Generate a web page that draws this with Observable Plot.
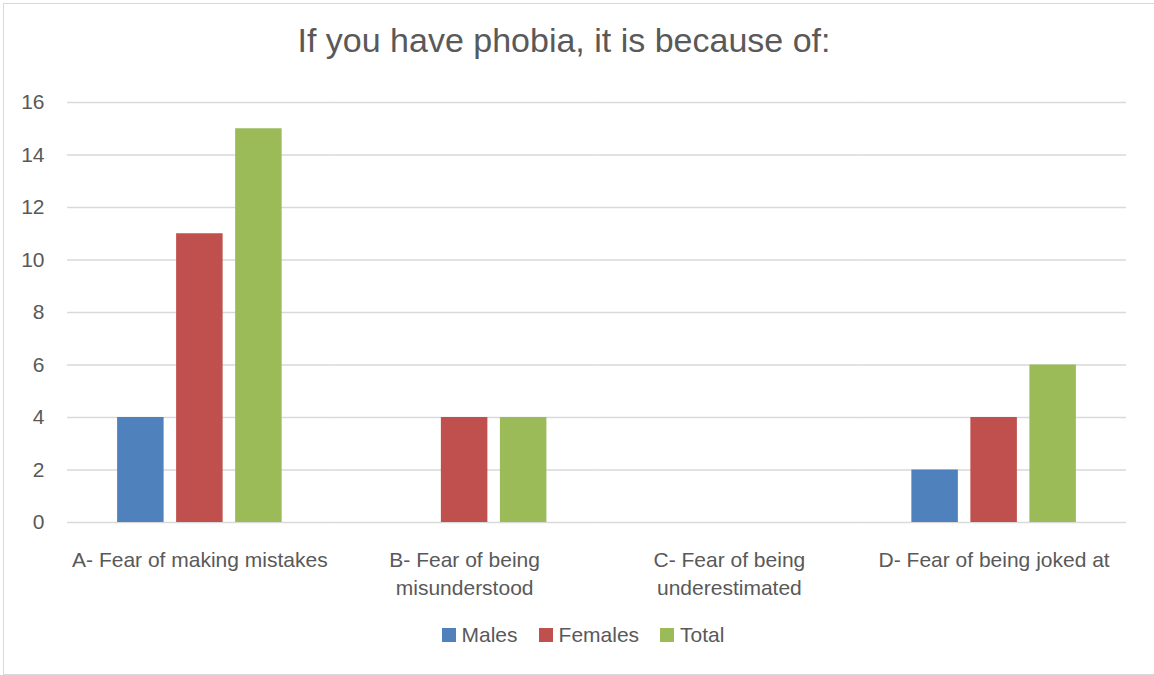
<!DOCTYPE html>
<html>
<head>
<meta charset="utf-8">
<script src="https://cdn.jsdelivr.net/npm/d3@7"></script>
<script src="https://cdn.jsdelivr.net/npm/@observablehq/plot@0.6"></script>
<style>
  html, body { margin: 0; padding: 0; background: #fff; }
  body { width: 1154px; height: 675px; position: relative; overflow: hidden;
         font-family: "Liberation Sans", Arial, sans-serif; color: #595959; }
  #frame { position: absolute; left: 3px; top: 3px; width: 1170px; height: 672px;
           border: 1px solid #d9d9d9; box-sizing: border-box; }
  #title { position: absolute; left: 0; top: 20px; width: 1128px; text-align: center;
           font-size: 34px; line-height: 40px; }
  #chart { position: absolute; left: 0; top: 85px; }
  #legend { position: absolute; left: 0; top: 622px; width: 1166px; display: flex;
            justify-content: center; gap: 21px; font-size: 21px; line-height: 26px; }
  #legend .item { display: flex; align-items: center; gap: 6px; }
  #legend .swatch { width: 14px; height: 14px; display: inline-block; }
</style>
</head>
<body>
<div id="frame"></div>
<div id="title">If you have phobia, it is because of:</div>
<div id="chart"></div>
<div id="legend"></div>
<script>
// Survey answers: reasons given for the phobia, counted by group
const categories = [
  "A- Fear of making mistakes",
  "B- Fear of being misunderstood",
  "C- Fear of being underestimated",
  "D- Fear of being joked at"
];
const categoryLabels = [
  "A- Fear of making mistakes",
  "B- Fear of being\nmisunderstood",
  "C- Fear of being\nunderestimated",
  "D- Fear of being joked at"
];
const series = ["Males", "Females", "Total"];
const males = [4, 0, 0, 2];
const females = [11, 4, 0, 4];
const total = [15, 4, 0, 6];
const seriesColors = ["#4f81bd", "#c0504d", "#9bbb59"];
const yTicks = [0, 2, 4, 6, 8, 10, 12, 14, 16];

// Long table built from the series arrays
const valuesBySeries = [males, females, total];
const data = [];
series.forEach((s, si) => {
  categories.forEach((c, ci) => {
    data.push({category: c, series: s, value: valuesBySeries[si][ci]});
  });
});

const labelOf = new Map(categories.map((c, i) => [c, categoryLabels[i]]));

const chart = Plot.plot({
  width: 1154,
  height: 532,
  marginTop: 17,
  marginBottom: 95,
  marginLeft: 67,
  marginRight: 28,
  style: {fontFamily: "Liberation Sans, Arial, sans-serif", color: "#595959", background: "transparent"},
  fx: {domain: categories, padding: 0, round: false, axis: null},
  x: {domain: series, paddingInner: 0.212, paddingOuter: 0.849, round: false, axis: null},
  y: {domain: [0, 16], axis: null},
  color: {domain: series, range: seriesColors},
  marks: [
    Plot.gridY(yTicks, {stroke: "#d9d9d9", strokeOpacity: 1, strokeWidth: 1.3}),
    Plot.barY(data, {fx: "category", x: "series", y: "value", fill: "series"}),
    Plot.axisY(yTicks, {tickSize: 0, tickPadding: 23, fontSize: 21, label: null}),
    Plot.axisFx({anchor: "bottom", tickSize: 0, tickPadding: 25, fontSize: 21,
                 lineHeight: 1.33, label: null, tickFormat: (d) => labelOf.get(d)})
  ]
});
document.getElementById("chart").appendChild(chart);

// Legend row
const legend = document.getElementById("legend");
series.forEach((s, i) => {
  const item = document.createElement("span");
  item.className = "item";
  const sw = document.createElement("span");
  sw.className = "swatch";
  sw.style.background = seriesColors[i];
  const t = document.createElement("span");
  t.textContent = s;
  item.appendChild(sw);
  item.appendChild(t);
  legend.appendChild(item);
});
</script>
</body>
</html>
